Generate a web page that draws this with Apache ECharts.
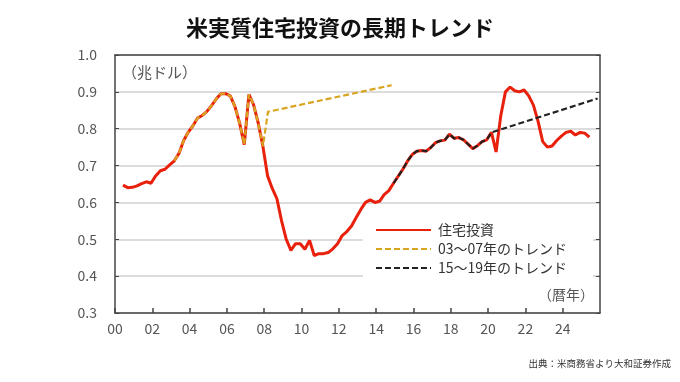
<!DOCTYPE html>
<html><head><meta charset="utf-8">
<script src="https://cdn.jsdelivr.net/npm/echarts@6/dist/echarts.min.js"></script>
<style>html,body{margin:0;padding:0;background:#fff}#c{width:680px;height:382px}</style>
</head><body><div id="c"></div>
<script>
// Quarterly real residential investment (trillion USD), 2000Q2 .. 2025Q2
const firstYear = 2000, firstQuarter = 2;
const housing = [
  0.647,0.640,0.641,0.645,0.651,0.656,0.652,0.672,0.686,0.690,
  0.702,0.713,0.733,0.768,0.791,0.808,0.829,0.836,0.847,0.863,
  0.881,0.895,0.895,0.889,0.860,0.815,0.757,0.893,0.865,0.815,
  0.752,0.672,0.638,0.610,0.550,0.500,0.470,0.488,0.488,0.473,
  0.497,0.456,0.461,0.461,0.464,0.474,0.488,0.510,0.521,0.536,
  0.559,0.581,0.600,0.607,0.600,0.603,0.621,0.632,0.652,0.671,
  0.690,0.712,0.730,0.739,0.741,0.739,0.749,0.762,0.767,0.769,
  0.785,0.774,0.776,0.770,0.758,0.746,0.754,0.765,0.770,0.790,
  0.737,0.835,0.900,0.913,0.903,0.900,0.905,0.889,0.864,0.820,
  0.765,0.750,0.753,0.768,0.780,0.790,0.793,0.783,0.790,0.788,
  0.777
];
// trend lines: overlay ranges (quarter indexes into housing) and projected end points [year, value]
const trend0307Overlay = [11, 30];          // 2003Q1 .. 2007Q4
const trend0307Line = [[2008.2, 0.846], [2014.83, 0.918]];
const trend1519Overlay = [58, 79];          // 2014Q4 .. 2020Q1
const trend1519Line = [[2025.87, 0.882]];

const seriesNames = ['住宅投資', '03～07年のトレンド', '15～19年のトレンド'];
const yTicks = [0.3, 0.4, 0.5, 0.6, 0.7, 0.8, 0.9, 1.0];
const xMin = 2000, xMax = 2026, xStep = 2;

const qTime = k => {
  const q = firstQuarter - 1 + k;
  return firstYear + Math.floor(q / 4) + (q % 4) / 4 + 0.18;
};
const housingData = housing.map((v, k) => [qTime(k), v]);
const slice = r => housingData.slice(r[0], r[1] + 1);
const trendA = slice(trend0307Overlay).concat(trend0307Line);
const trendB = slice(trend1519Overlay).concat(trend1519Line);

const font = '"Noto Sans CJK JP", "Noto Sans", sans-serif';
const axisColor = '#444';
const chart = echarts.init(document.getElementById('c'), null, {renderer: 'canvas'});
chart.setOption({
  animation: false,
  textStyle: {fontFamily: font},
  title: {
    text: '米実質住宅投資の長期トレンド', left: 'center', top: 12,
    textStyle: {fontSize: 22, fontWeight: 'bold', color: '#111', fontFamily: font}
  },
  grid: {left: 115, right: 80, top: 55, bottom: 69},
  legend: {
    data: seriesNames, orient: 'vertical', left: 375, top: 223,
    itemWidth: 55, itemHeight: 14, itemGap: 5, padding: 0,
    itemStyle: {opacity: 0},
    textStyle: {fontSize: 14, color: '#333', fontFamily: font, padding: [0, 0, 0, 2]}
  },
  xAxis: [{
    type: 'value', min: xMin, max: xMax, interval: xStep,
    axisLine: {show: true, lineStyle: {color: axisColor, width: 1.5}},
    axisTick: {show: true, inside: true, length: 5, lineStyle: {color: axisColor, width: 1.5}},
    axisLabel: {
      color: '#555', fontSize: 14, margin: 9, fontFamily: font, showMaxLabel: false,
      formatter: v => String(v % 100).padStart(2, '0')
    },
    splitLine: {show: false}
  }, {
    type: 'value', position: 'top', min: xMin, max: xMax, interval: xStep,
    axisLine: {show: true, onZero: false, lineStyle: {color: axisColor, width: 1.5}},
    axisTick: {show: false}, axisLabel: {show: false}, splitLine: {show: false}
  }],
  yAxis: [{
    type: 'value', min: yTicks[0], max: yTicks[yTicks.length - 1], interval: 0.1,
    axisLine: {show: true, lineStyle: {color: axisColor, width: 1.5}},
    axisTick: {show: true, inside: true, length: 4, lineStyle: {color: axisColor, width: 1}},
    axisLabel: {color: '#555', fontSize: 14, margin: 18, fontFamily: font, formatter: v => v.toFixed(1)},
    splitLine: {show: true, lineStyle: {color: '#d0d0d0', width: 1.5}}
  }, {
    type: 'value', position: 'right', min: yTicks[0], max: yTicks[yTicks.length - 1], interval: 0.1,
    axisLine: {show: true, onZero: false, lineStyle: {color: axisColor, width: 1.5}},
    axisTick: {show: true, inside: true, length: 4, lineStyle: {color: axisColor, width: 1}},
    axisLabel: {show: false}, splitLine: {show: false}
  }],
  graphic: [
    {type: 'rect', z: 1, shape: {x: 363, y: 211, width: 230, height: 76}, style: {fill: '#fff'}},
    {type: 'text', z: 5, left: 122, top: 65, style: {text: '（兆ドル）', fontSize: 15, fill: '#555', fontFamily: font}},
    {type: 'text', z: 5, left: 538, top: 288, style: {text: '（暦年）', fontSize: 14, fill: '#555', fontFamily: font}},
    {type: 'text', z: 5, right: 9, top: 359, style: {text: '出典：米商務省より大和証券作成', fontSize: 9.5, fill: '#333', fontFamily: font}}
  ],
  series: [{
    name: seriesNames[0], type: 'line', data: housingData, symbol: 'none', z: 3,
    lineStyle: {color: '#e8200c', width: 3}, itemStyle: {color: '#e8200c'}
  }, {
    name: seriesNames[1], type: 'line', data: trendA, symbol: 'none', z: 4,
    lineStyle: {color: '#d9a520', width: 2.2, type: [6, 3]}, itemStyle: {color: '#d9a520'}
  }, {
    name: seriesNames[2], type: 'line', data: trendB, symbol: 'none', z: 5,
    lineStyle: {color: '#222', width: 2.2, type: [6, 3]}, itemStyle: {color: '#222'}
  }]
});
</script></body></html>
